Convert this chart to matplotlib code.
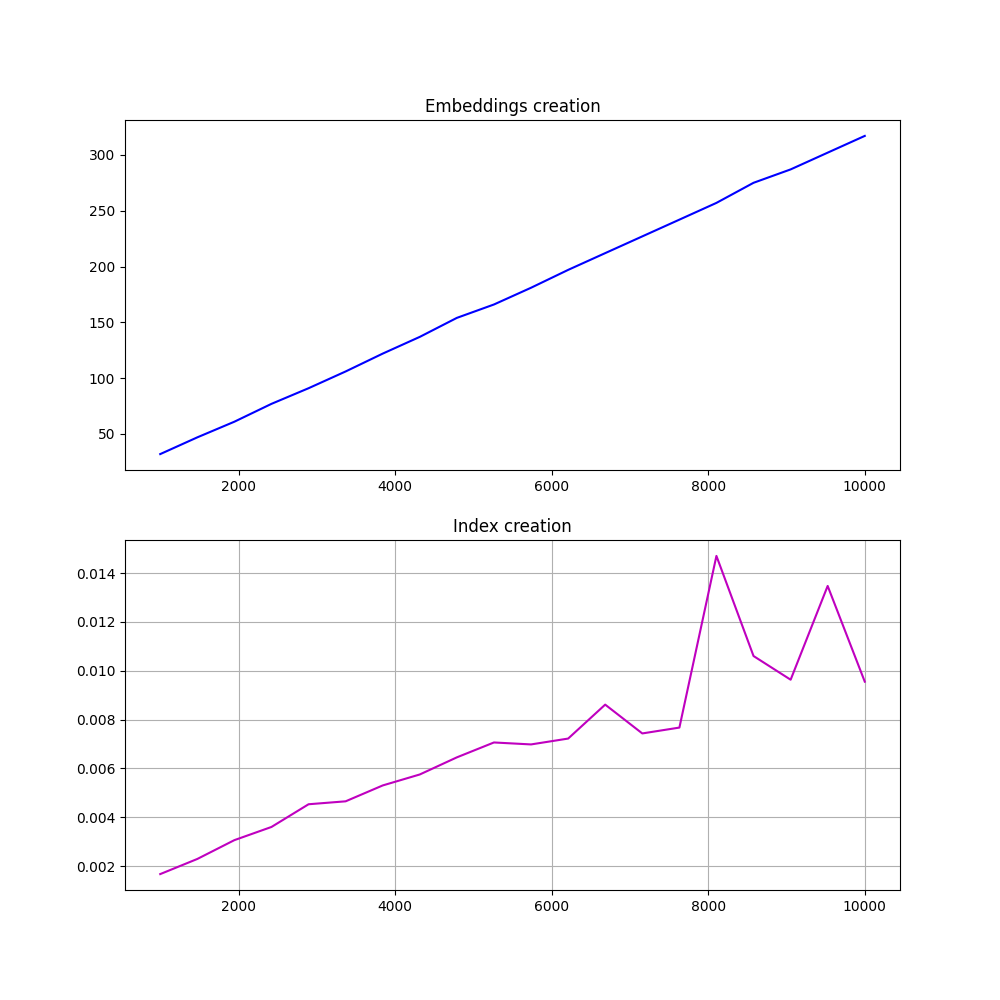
import matplotlib
matplotlib.use("Agg")
import matplotlib.pyplot as plt

sizes = [1000, 1474, 1947, 2421, 2895, 3368, 3842, 4316, 4789, 5263,
         5737, 6211, 6684, 7158, 7632, 8105, 8579, 9053, 9526, 10000]
embedding_times = [32, 47, 61, 77, 91, 106, 122, 137, 154, 166,
                   181, 197, 212, 227, 242, 257, 275, 287, 302, 317]
index_times = [0.00167, 0.00229, 0.00306, 0.0036, 0.00453, 0.00465, 0.0053, 0.00575,
               0.00645, 0.00706, 0.00698, 0.00722, 0.00861, 0.00743, 0.00767, 0.0147,
               0.0106, 0.00963, 0.01347, 0.00955]

fig, (ax1, ax2) = plt.subplots(2, 1, figsize=(10, 10))
ax1.plot(sizes, embedding_times, "b")
ax1.set_title("Embeddings creation")
ax2.plot(sizes, index_times, "m")
ax2.set_title("Index creation")
ax2.grid(True)
fig.savefig("out.png", dpi=100)
